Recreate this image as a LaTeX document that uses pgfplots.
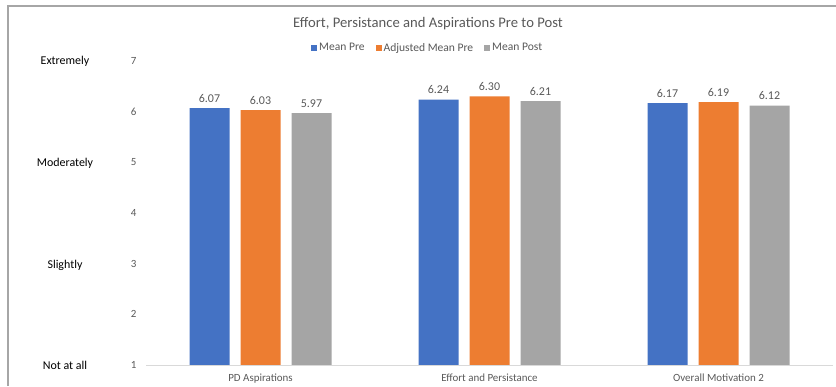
\documentclass[border=0pt]{standalone}
\usepackage{fontspec}
\setmainfont{Carlito}
\usepackage{pgfplots}
\pgfplotsset{compat=1.18}
\definecolor{cblue}{HTML}{4472C4}
\definecolor{corange}{HTML}{ED7D31}
\definecolor{cgray}{HTML}{A5A5A5}
\definecolor{labgray}{HTML}{595959}
\definecolor{axgray}{HTML}{D9D9D9}
\definecolor{framegray}{HTML}{A6A6A6}

\begin{document}
\begin{tikzpicture}[x=1bp,y=1bp]
\path[use as bounding box] (0,0) rectangle (836,386);
\draw[framegray, line width=1.2bp] (8,0) -- (8,380) -- (836,380);
\begin{axis}[
    at={(146bp,21bp)}, anchor=south west,
    scale only axis, width=687bp, height=304bp,
    xmin=-0.5, xmax=2.5, ymin=1, ymax=7,
    ybar=11bp, bar width=40bp,
    axis line style={draw=none},
    tick style={draw=none},
    xtick={0,1,2},
    xticklabels={PD Aspirations, Effort and Persistance, Overall Motivation 2},
    ytick={1,2,3,4,5,6,7},
    tick label style={font=\fontsize{11}{13}\selectfont, text=labgray},
    /pgf/number format/assume math mode=true,
    xticklabel style={yshift=-1bp},
    yticklabel style={xshift=-6bp},
    nodes near coords,
    nodes near coords style={font=\fontsize{12}{14}\selectfont, text=labgray, yshift=2bp,
        /pgf/number format/fixed, /pgf/number format/fixed zerofill,
        /pgf/number format/precision=2},
    legend style={at={(0.41,1.043)}, anchor=center, draw=none,
        font=\fontsize{11.6}{13}\selectfont, text=labgray,
        /tikz/every even column/.append style={column sep=9bp}},
    legend columns=3,
    legend image code/.code={\fill[#1] (0bp,-3bp) rectangle (6bp,3bp);},
]
\addplot[fill=cblue, draw=none] coordinates {(0,6.07) (1,6.24) (2,6.17)};
\addlegendentry{Mean Pre}
\addplot[fill=corange, draw=none] coordinates {(0,6.03) (1,6.30) (2,6.19)};
\addlegendentry{Adjusted Mean Pre}
\addplot[fill=cgray, draw=none] coordinates {(0,5.97) (1,6.21) (2,6.12)};
\addlegendentry{Mean Post}
\draw[axgray, line width=1bp] (rel axis cs:0,0) -- (rel axis cs:1,0);
\end{axis}
\node[font=\fontsize{14.7}{17}\selectfont, text=labgray] at (428,362) {Effort, Persistance and Aspirations Pre to Post};
\node[font=\fontsize{12}{14}\selectfont] at (65,325) {Extremely};
\node[font=\fontsize{12}{14}\selectfont] at (65,223) {Moderately};
\node[font=\fontsize{12}{14}\selectfont] at (65,121) {Slightly};
\node[font=\fontsize{12}{14}\selectfont] at (65,21) {Not at all};
\end{tikzpicture}
\end{document}
